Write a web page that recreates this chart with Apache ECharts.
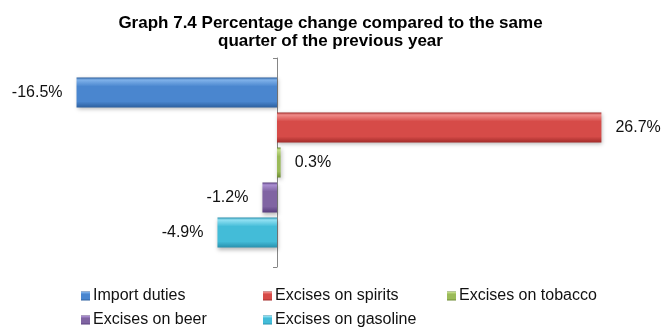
<!DOCTYPE html>
<html>
<head>
<meta charset="utf-8">
<script src="https://cdn.jsdelivr.net/npm/echarts@6/dist/echarts.min.js"></script>
<style>html,body{margin:0;padding:0;background:#fff}#c{width:661px;height:328px}</style>
</head>
<body>
<div id="c"></div>
<script>
const titleText = 'Graph 7.4 Percentage change compared to the same\nquarter of the previous year';
const categories = ['Q'];
const seriesNames = ['Import duties', 'Excises on spirits', 'Excises on tobacco', 'Excises on beer', 'Excises on gasoline'];
const seriesValues = [-16.5, 26.7, 0.3, -1.2, -4.9];
const seriesColors = [
  ['#80b2ea', '#4a86cf', '#2c5f9e'],
  ['#f08c8a', '#d64b48', '#a22c2a'],
  ['#c6df8c', '#9bbb59', '#6c8a33'],
  ['#ab8fd2', '#8064a2', '#583d7d'],
  ['#92e1f3', '#43bcd8', '#2890ad']
];
const legendPos = [
  {left: 81, top: 288}, {left: 263, top: 288}, {left: 447, top: 288},
  {left: 81, top: 312}, {left: 263, top: 312}
];

function grad(c) {
  return new echarts.graphic.LinearGradient(0, 0, 0, 1, [
    {offset: 0, color: c[2]},
    {offset: 0.08, color: c[0]},
    {offset: 0.3, color: c[1]},
    {offset: 0.8, color: c[1]},
    {offset: 1, color: c[2]}
  ]);
}

const chart = echarts.init(document.getElementById('c'), null, {renderer: 'canvas'});
const font = 'Liberation Sans, Arial, sans-serif';

const series = seriesNames.map((name, i) => ({
  name: name,
  type: 'bar',
  barWidth: 30,
  barGap: '16.67%',
  itemStyle: {
    color: grad(seriesColors[i]),
    shadowColor: 'rgba(0,0,0,0.28)',
    shadowBlur: 4,
    shadowOffsetX: 1,
    shadowOffsetY: 2
  },
  label: {
    show: true,
    position: seriesValues[i] < 0 ? 'left' : 'right',
    distance: 14,
    formatter: (p) => p.value.toFixed(1) + '%',
    fontFamily: font,
    fontSize: 16,
    color: '#111'
  },
  data: [seriesValues[i]]
}));

const legends = seriesNames.map((name, i) => ({
  data: [{name: name, icon: 'rect'}],
  left: legendPos[i].left,
  top: legendPos[i].top,
  padding: 0,
  itemWidth: 9,
  itemHeight: 9,
  textStyle: {fontFamily: font, fontSize: 16, color: '#111', padding: [0, 0, 0, -2]},
  selectedMode: false
}));

chart.setOption({
  animation: false,
  backgroundColor: '#fff',
  title: {
    text: titleText,
    left: 'center',
    top: 9,
    textStyle: {fontFamily: font, fontSize: 17, fontWeight: 'bold', color: '#000', lineHeight: 18}
  },
  legend: legends,
  grid: {left: 34, right: 19.5, top: 58, bottom: 61, containLabel: false},
  xAxis: {
    type: 'value',
    min: -20,
    max: 30,
    show: false,
    splitLine: {show: false}
  },
  yAxis: {
    type: 'category',
    data: categories,
    axisLine: {show: true, onZero: true, lineStyle: {color: '#868686', width: 1}},
    axisTick: {show: true, length: 4, lineStyle: {color: '#868686'}},
    axisLabel: {show: false},
    splitLine: {show: false}
  },
  series: series
});
</script>
</body>
</html>
